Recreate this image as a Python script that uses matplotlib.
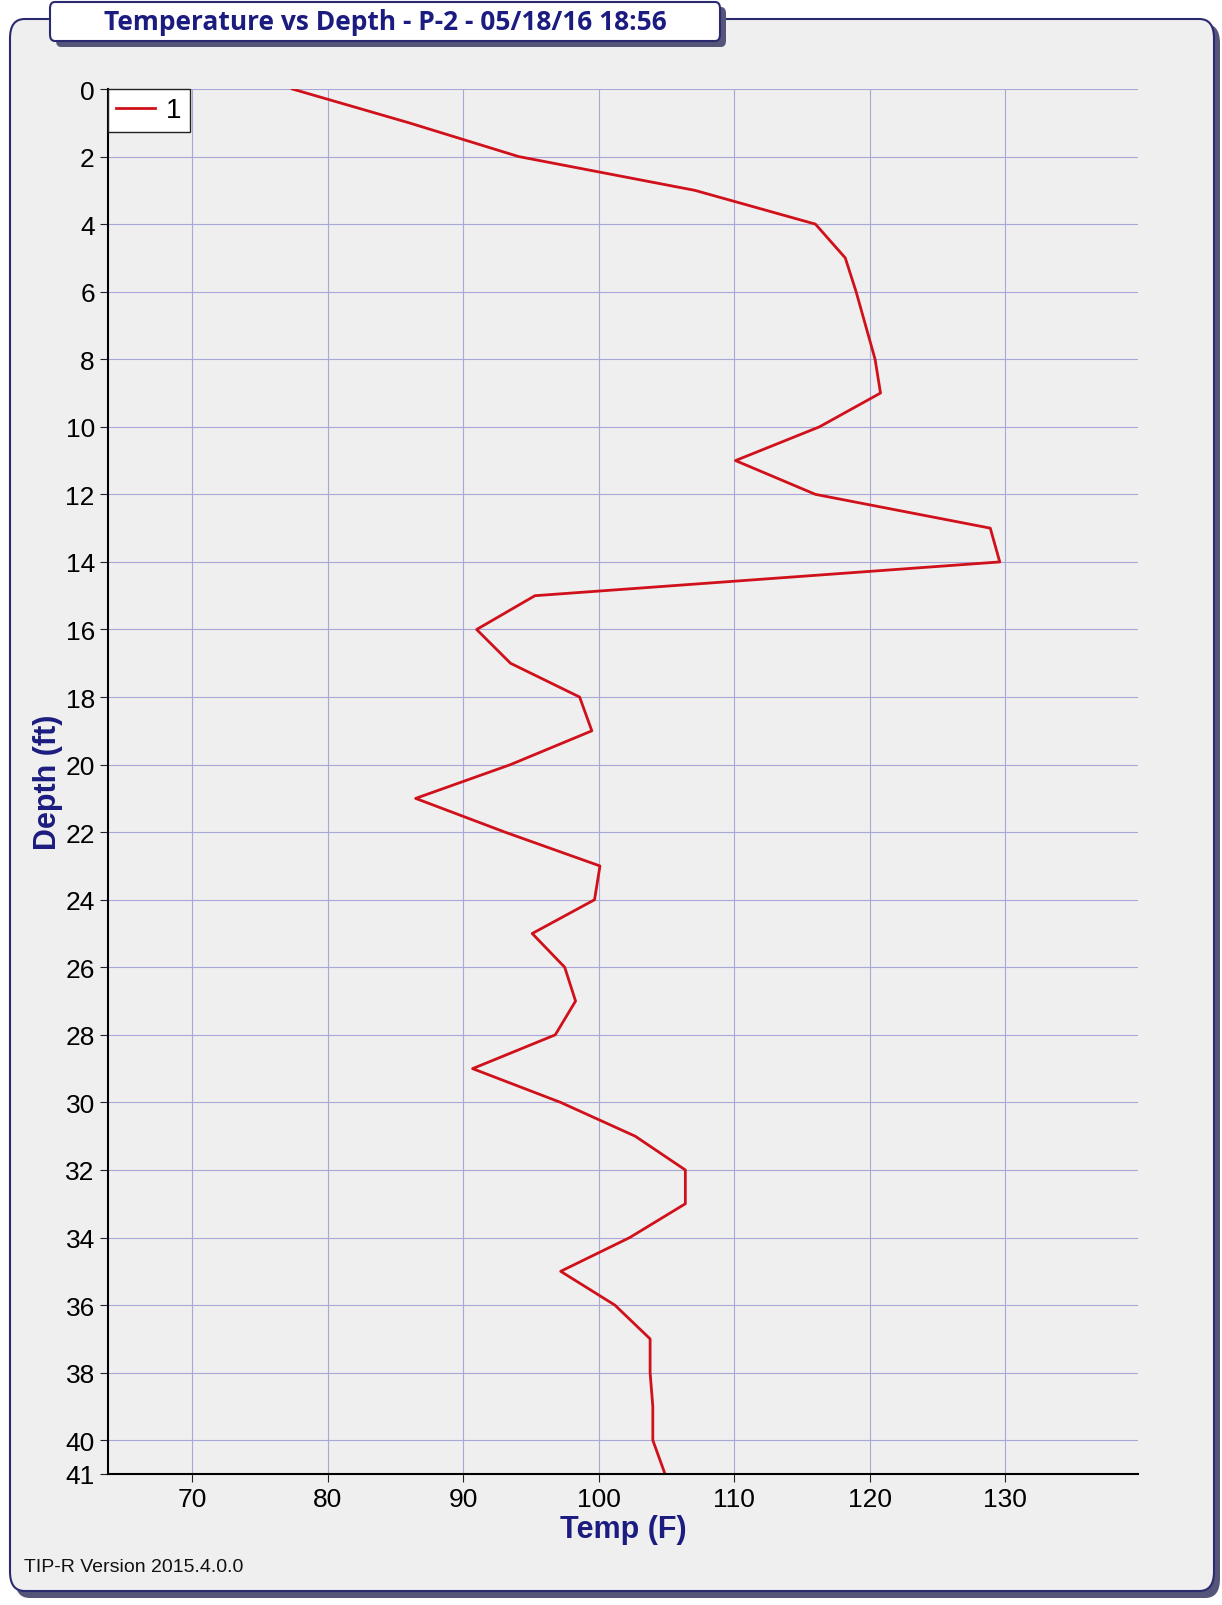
import matplotlib
matplotlib.use("Agg")
import matplotlib.pyplot as plt
from matplotlib.patches import FancyBboxPatch

depth = list(range(42))
temp = [77.4, 86.0, 94.1, 107.1, 116.0, 118.2, 119.0, 119.7, 120.4, 120.8,
        116.3, 110.1, 116.0, 128.9, 129.6, 95.3, 91.0, 93.5, 98.6, 99.5,
        93.5, 86.5, 93.1, 100.1, 99.7, 95.1, 97.5, 98.3, 96.8, 90.7,
        97.2, 102.7, 106.4, 106.4, 102.3, 97.2, 101.2, 103.8, 103.8, 104.0,
        104.0, 104.9]
series_name = "1"
title = "Temperature vs Depth - P-2 - 05/18/16 18:56"
navy = "#1c1c80"

plt.rcParams['font.family'] = ['Liberation Sans', 'DejaVu Sans']
fig = plt.figure(figsize=(12.22, 16.06), dpi=100)
fig.patch.set_facecolor("white")

# outer panel with shadow
W, H = 1222, 1606
def fx(px): return px / W
def fy(py): return 1 - py / H
shadow = FancyBboxPatch((fx(15), fy(1599)), fx(1205), fy(25) - fy(1599),
                        boxstyle="round,pad=0,rounding_size=0.012", transform=fig.transFigure,
                        facecolor="#55557a", edgecolor="none", zorder=0)
panel = FancyBboxPatch((fx(10), fy(1592)), fx(1204), fy(20) - fy(1592),
                       boxstyle="round,pad=0,rounding_size=0.012", transform=fig.transFigure,
                       facecolor="#efefef", edgecolor="#2a2a70", linewidth=1.5, zorder=1)
fig.patches.extend([shadow, panel])

ax = fig.add_axes([fx(108), fy(1475), fx(1138) - fx(108), fy(90) - fy(1475)])
ax.set_zorder(5)
ax.set_facecolor("#efefef")
ax.plot(temp, depth, color="#d0101a", linewidth=2, label=series_name)
ax.set_xlim(63.8, 139.8)
ax.set_ylim(41, 0)
ax.set_xticks(range(70, 131, 10))
ax.set_yticks(list(range(0, 41, 2)) + [41])
ax.grid(True, color="#a8a8d8", linewidth=0.8)
ax.tick_params(labelsize=19, length=6, color="#222222")
for s in ["top", "right"]:
    ax.spines[s].set_visible(False)
for s in ["left", "bottom"]:
    ax.spines[s].set_linewidth(1.5)
ax.set_xlabel("Temp (F)", fontsize=22, fontweight="bold", color=navy, labelpad=2)
ax.set_ylabel("Depth (ft)", fontsize=22, fontweight="bold", color=navy, labelpad=2)
leg = ax.legend(loc="upper left", fontsize=20, handlelength=1.4, borderaxespad=0,
                fancybox=False, framealpha=1, edgecolor="#222222",
                borderpad=0.3, handletextpad=0.4)
leg.get_frame().set_facecolor("white")

# title box
tshadow = FancyBboxPatch((fx(56), fy(48)), fx(670), fy(8) - fy(48),
                         boxstyle="round,pad=0,rounding_size=0.004", transform=fig.transFigure,
                         facecolor="#55557a", edgecolor="none", zorder=2)
tbox = FancyBboxPatch((fx(50), fy(42)), fx(670), fy(3) - fy(42),
                      boxstyle="round,pad=0,rounding_size=0.004", transform=fig.transFigure,
                      facecolor="white", edgecolor="#2a2a70", linewidth=1.5, zorder=3)
fig.patches.extend([tshadow, tbox])
fig.text(fx(385), fy(22), title, ha="center", va="center", fontsize=19,
         fontweight="bold", color=navy, zorder=4, family=['Open Sans', 'DejaVu Sans'])
fig.text(fx(24), fy(1568), "TIP-R Version 2015.4.0.0", ha="left", va="center",
         fontsize=14, color="#111111")

fig.savefig("out.png", dpi=100)
